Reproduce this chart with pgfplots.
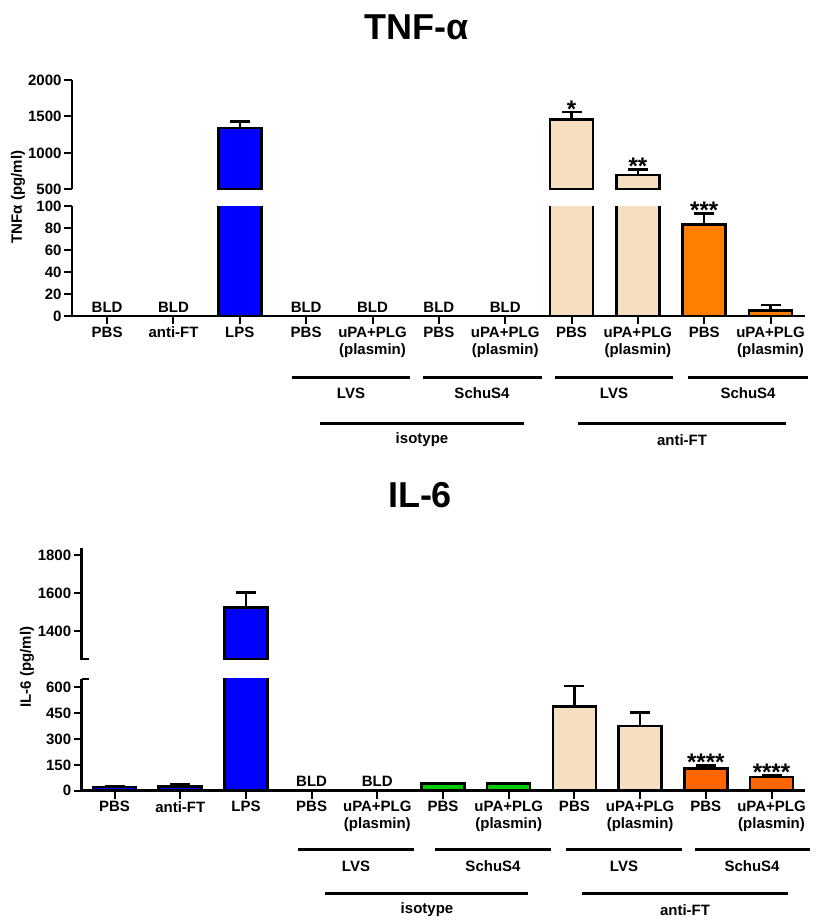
\documentclass[border=0pt]{standalone}
\usepackage{fontspec}
\setmainfont{Liberation Sans}
\usepackage{pgfplots}
\pgfplotsset{compat=1.18}
\definecolor{cblue}{RGB}{0,0,255}
\definecolor{cgreen}{RGB}{0,204,0}
\definecolor{cbeige}{RGB}{246,222,192}
\definecolor{corangeA}{RGB}{255,128,0}
\definecolor{corangeB}{RGB}{255,102,0}
\newcommand{\tf}{\fontsize{15}{17}\selectfont\bfseries}
\newcommand{\af}{\fontsize{24}{24}\selectfont\bfseries}
\pgfplotsset{
  brk/.style={
    scale only axis, anchor=south west,
    enlargelimits=false, clip mode=individual,
    axis line style={draw=none},
    tick align=outside, xtick pos=bottom, ytick pos=left,
    major tick length=7pt,
    major tick style={draw=none},
    tick label style={font=\tf},
    /pgf/number format/assume math mode=true,
    /pgf/number format/1000 sep={},
    ybar, bar width=43pt, bar shift=0pt,
    every axis plot/.append style={draw=black, line width=2.5pt},
  },
  upper/.style={brk, xtick=\empty},
  lower/.style={brk,
    xtick={0,...,10},
    xticklabels={PBS, anti-FT, LPS, PBS, {uPA+PLG\\(plasmin)}, PBS, {uPA+PLG\\(plasmin)}, PBS, {uPA+PLG\\(plasmin)}, PBS, {uPA+PLG\\(plasmin)}},
    xticklabel style={align=center, font=\tf},
  },
  eb/.style={error bars/.cd, y dir=plus, y explicit,
    error bar style={line width=2.5pt, black},
    error mark options={line width=2.5pt, black, mark size=10pt, rotate=90}},
}
\newcommand{\ylineonly}{\draw[line width=2.5pt] (rel axis cs:0,0) -- (rel axis cs:0,1);}
\newcommand{\lshape}{\draw[line width=2.5pt] (rel axis cs:0,1) -- (rel axis cs:0,0) -- (rel axis cs:1,0);}
% #1 = tick end in y units below 0
\newcommand{\xticks}[1]{\pgfplotsinvokeforeach{0,1,2,3,4,5,6,7,8,9,10}{\draw[line width=2pt] (axis cs:##1,0) -- (axis cs:##1,#1);}}
\begin{document}
\begin{tikzpicture}
\useasboundingbox (0pt,0pt) rectangle (820pt,-920pt);
% ---------------- TNF-alpha ----------------
\node[font=\fontsize{36}{36}\selectfont\bfseries] at (417pt,-27pt) {TNF-α};
\node[font=\tf, rotate=90] at (18pt,-197pt) {TNFα (pg/ml)};
\begin{axis}[lower, at={(72pt,-316pt)}, width=733pt, height=110pt,
  xmin=-0.53, xmax=10.52, ymin=0, ymax=100, ytick={0,20,...,100}]
  \addplot[fill=cblue] coordinates {(2,1340)};
  \addplot[fill=cbeige] coordinates {(7,1455) (8,697)};
  \addplot[fill=corangeA, eb] coordinates {(9,83) +- (0,10) (10,5) +- (0,5)};
  \lshape
  \xticks{-7.27}
  \pgfplotsinvokeforeach{0,20,40,60,80,100}{\draw[line width=2pt] (axis cs:-0.53,#1) -- (axis cs:-0.65,#1);}
  \node[font=\tf, anchor=base, yshift=4pt] at (axis cs:0,0) {BLD};
  \node[font=\tf, anchor=base, yshift=4pt] at (axis cs:1,0) {BLD};
  \node[font=\tf, anchor=base, yshift=4pt] at (axis cs:3,0) {BLD};
  \node[font=\tf, anchor=base, yshift=4pt] at (axis cs:4,0) {BLD};
  \node[font=\tf, anchor=base, yshift=4pt] at (axis cs:5,0) {BLD};
  \node[font=\tf, anchor=base, yshift=4pt] at (axis cs:6,0) {BLD};
  \node[font=\af, anchor=base, inner sep=0pt, yshift=-5pt] at (axis cs:9,93) {***};
\end{axis}
\begin{axis}[upper, at={(72pt,-189.3pt)}, width=733pt, height=109.3pt,
  xmin=-0.53, xmax=10.52, ymin=500, ymax=2000, ytick={500,1000,1500,2000}]
  \addplot[fill=cblue, eb] coordinates {(2,1340) +- (0,90)};
  \addplot[fill=cbeige, eb] coordinates {(7,1455) +- (0,105) (8,697) +- (0,78)};
  \ylineonly
  \pgfplotsinvokeforeach{500,1000,1500,2000}{\draw[line width=2pt] (axis cs:-0.53,#1) -- (axis cs:-0.65,#1);}
  \node[font=\af, anchor=base, inner sep=0pt, yshift=-5pt] at (axis cs:7,1560) {*};
  \node[font=\af, anchor=base, inner sep=0pt, yshift=-5pt] at (axis cs:8,775) {**};
\end{axis}
\foreach \a/\b in {292/410, 423/542, 555/673, 688/808}
  \draw[line width=3pt] (\a pt,-377pt) -- (\b pt,-377pt);
\foreach \x/\t in {351/LVS, 482/SchuS4, 614/LVS, 748/SchuS4}
  \node[font=\tf] at (\x pt,-393pt) {\t};
\draw[line width=3pt] (320pt,-423pt) -- (524pt,-423pt);
\draw[line width=3pt] (578pt,-423pt) -- (786pt,-423pt);
\node[font=\tf] at (422pt,-440pt) {isotype};
\node[font=\tf] at (682pt,-440pt) {anti-FT};
% ---------------- IL-6 ----------------
\node[font=\fontsize{36}{36}\selectfont\bfseries] at (420pt,-495pt) {IL-6};
\node[font=\tf, rotate=90] at (27pt,-667pt) {IL-6 (pg/ml)};
\begin{axis}[lower, at={(81.7pt,-790.7pt)}, width=723.3pt, height=112pt,
  xmin=-0.5, xmax=10.51, ymin=0, ymax=650, ytick={0,150,300,450,600}]
  \addplot[fill=cblue, eb] coordinates {(0,22) +- (0,6) (1,24) +- (0,12)};
  \addplot[fill=cblue] coordinates {(2,1525)};
  \addplot[fill=cgreen, eb] coordinates {(5,42) +- (0,2) (6,42) +- (0,2)};
  \addplot[fill=cbeige, eb] coordinates {(7,488) +- (0,121) (8,376) +- (0,77)};
  \addplot[fill=corangeB, eb] coordinates {(9,130) +- (0,15) (10,80) +- (0,10)};
  \lshape
  \xticks{-46.4}
  \pgfplotsinvokeforeach{0,150,300,450,600}{\draw[line width=2pt] (axis cs:-0.5,#1) -- (axis cs:-0.622,#1);}
  \draw[line width=2pt] (axis cs:-0.5,650) -- (axis cs:-0.394,650);
  \node[font=\tf, anchor=base, yshift=4pt] at (axis cs:3,0) {BLD};
  \node[font=\tf, anchor=base, yshift=4pt] at (axis cs:4,0) {BLD};
  \node[font=\af, anchor=base, inner sep=0pt, yshift=-5pt] at (axis cs:9,145) {****};
  \node[font=\af, anchor=base, inner sep=0pt, yshift=-5pt] at (axis cs:10,90) {****};
\end{axis}
\begin{axis}[upper, at={(81.7pt,-659.3pt)}, width=723.3pt, height=111.5pt,
  xmin=-0.5, xmax=10.51, ymin=1250, ymax=1840, ytick={1400,1600,1800}]
  \addplot[fill=cblue, eb] coordinates {(2,1525) +- (0,78)};
  \ylineonly
  \pgfplotsinvokeforeach{1400,1600,1800}{\draw[line width=2pt] (axis cs:-0.5,#1) -- (axis cs:-0.622,#1);}
  \draw[line width=2pt] (axis cs:-0.53,1250) -- (axis cs:-0.394,1250);
\end{axis}
\foreach \a/\b in {298/414, 435/551, 566/682, 695/810}
  \draw[line width=3pt] (\a pt,-849pt) -- (\b pt,-849pt);
\foreach \x/\t in {356/LVS, 493/SchuS4, 624/LVS, 752/SchuS4}
  \node[font=\tf] at (\x pt,-866pt) {\t};
\draw[line width=3pt] (325pt,-893pt) -- (528pt,-893pt);
\draw[line width=3pt] (582pt,-893pt) -- (788pt,-893pt);
\node[font=\tf] at (427pt,-910pt) {isotype};
\node[font=\tf] at (685pt,-910pt) {anti-FT};
\end{tikzpicture}
\end{document}
